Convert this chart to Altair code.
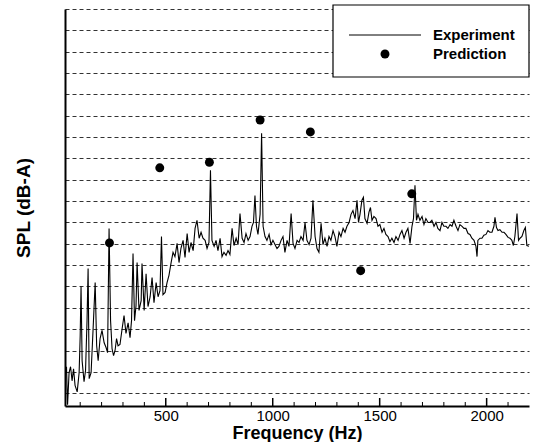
import altair as alt
import pandas as pd

# Experiment spectrum (Hz, dB-A)
freq = [32, 36, 41, 48, 55, 62, 69, 76, 86, 95, 100, 104, 109, 118, 125, 132, 137, 142, 151, 160,
        170, 177, 184, 193, 202, 212, 221, 228, 235, 242, 249, 256, 263, 270, 277, 286, 296, 305, 314, 324,
        333, 340, 347, 354, 361, 366, 375, 385, 389, 399, 408, 417, 427, 436, 445, 455, 464, 473, 480, 487,
        497, 506, 515, 525, 534, 543, 553, 562, 571, 581, 590, 600, 609, 618, 628, 637, 646, 656, 665, 674,
        684, 693, 702, 709, 716, 726, 735, 744, 754, 763, 772, 782, 791, 800, 810, 819, 829, 838, 847, 857,
        866, 875, 885, 894, 903, 910, 917, 924, 931, 941, 948, 955, 964, 973, 983, 992, 1001, 1011, 1020, 1029,
        1039, 1048, 1057, 1067, 1076, 1086, 1095, 1104, 1114, 1123, 1132, 1142, 1151, 1160, 1170, 1179, 1188, 1198, 1207, 1216,
        1226, 1235, 1244, 1254, 1263, 1272, 1282, 1291, 1300, 1310, 1319, 1329, 1338, 1347, 1357, 1366, 1375, 1385, 1394, 1401,
        1408, 1417, 1424, 1431, 1441, 1450, 1457, 1464, 1473, 1483, 1492, 1501, 1511, 1520, 1529, 1539, 1548, 1557, 1567, 1576,
        1586, 1595, 1604, 1614, 1623, 1632, 1642, 1651, 1658, 1665, 1672, 1679, 1688, 1698, 1707, 1716, 1726, 1735, 1744, 1754,
        1763, 1772, 1782, 1791, 1800, 1810, 1819, 1829, 1838, 1847, 1857, 1866, 1875, 1885, 1894, 1903, 1913, 1922, 1931, 1941,
        1950, 1955, 1959, 1969, 1978, 1987, 1997, 2006, 2015, 2025, 2034, 2039, 2046, 2053, 2062, 2072, 2081, 2090, 2100, 2109,
        2118, 2125, 2132, 2142, 2149, 2156, 2165, 2174, 2181, 2188, 2198]
spl = [14.8, 16.2, 7.3, 14.8, 16.2, 12.9, 15.7, 11.8, 10.3, 14.8, 23.5, 35.0, 17.6, 12.7, 15.3, 27.0, 39.2, 13.4, 14.8, 24.7,
       35.9, 21.1, 17.6, 22.8, 24.7, 21.8, 20.7, 19.5, 48.6, 27.0, 20.4, 18.8, 20.0, 22.8, 21.1, 21.4, 25.1, 28.2, 24.0, 26.5,
       23.0, 27.0, 42.7, 27.0, 30.5, 40.6, 29.4, 31.7, 40.4, 29.4, 38.0, 30.3, 32.6, 37.1, 31.2, 35.9, 32.6, 34.0, 46.7, 33.1,
       33.6, 35.9, 37.6, 40.6, 43.0, 42.0, 45.1, 40.6, 43.9, 45.8, 41.8, 47.4, 43.0, 45.3, 43.4, 48.6, 50.5, 46.3, 47.7, 46.3,
       45.8, 43.9, 45.3, 62.2, 45.8, 44.4, 45.8, 43.4, 46.3, 42.0, 43.0, 42.3, 43.4, 42.5, 48.6, 44.6, 46.3, 44.8, 52.1, 46.3,
       45.3, 47.4, 45.8, 46.7, 49.1, 50.0, 56.3, 49.1, 47.2, 51.9, 70.9, 49.1, 46.7, 45.8, 47.2, 44.8, 45.8, 44.8, 43.9, 44.4,
       45.8, 46.7, 43.0, 45.8, 44.4, 52.1, 45.1, 43.9, 45.8, 45.3, 46.7, 45.8, 50.0, 45.8, 44.8, 46.3, 55.2, 46.7, 43.9, 43.0,
       49.8, 44.8, 46.3, 44.4, 46.7, 45.8, 48.1, 46.7, 44.4, 47.7, 46.7, 48.6, 47.7, 49.1, 50.0, 51.9, 52.8, 50.9, 55.2, 50.0,
       51.9, 55.2, 55.9, 50.9, 49.8, 52.4, 53.5, 50.5, 51.4, 50.9, 49.1, 49.5, 47.7, 48.6, 47.2, 46.7, 45.5, 46.3, 45.3, 46.7,
       45.8, 47.2, 48.1, 46.3, 47.7, 48.6, 45.1, 49.1, 50.9, 58.7, 50.5, 51.9, 50.5, 51.4, 49.5, 50.9, 50.0, 50.0, 50.5, 49.1,
       50.0, 48.6, 48.1, 50.0, 49.1, 49.1, 48.6, 49.5, 49.1, 50.5, 49.1, 48.1, 49.5, 49.1, 48.6, 48.6, 47.4, 47.2, 46.3, 45.8,
       44.4, 42.0, 45.8, 46.3, 46.3, 47.0, 47.2, 48.1, 47.7, 47.7, 49.1, 51.2, 48.8, 48.1, 48.3, 47.7, 47.7, 47.2, 46.5, 46.3,
       45.8, 44.6, 46.7, 52.1, 45.8, 46.3, 46.7, 48.1, 48.8, 44.6, 44.4]

# Prediction points
pred_freq = [237, 472, 704, 941, 1176, 1411, 1650]
pred_spl = [45.2, 62.8, 64.1, 74.0, 71.2, 38.7, 56.7]

# Axis / grid values
grid_values = [10, 15, 20, 25, 30, 35, 40, 45, 50, 55, 60, 65, 70, 75, 80, 85, 90, 95, 100]
major_ticks = [500, 1000, 1500, 2000]
minor_ticks = [100, 200, 300, 400, 600, 700, 800, 900, 1100, 1200, 1300, 1400,
               1600, 1700, 1800, 1900, 2100]

FONT = "Liberation Sans"
W, H = 464, 397

xscale = alt.Scale(domain=[29, 2198], nice=False, zero=False)
yscale = alt.Scale(domain=[7, 100], nice=False, zero=False)

x_enc = alt.X("freq:Q", scale=xscale,
              axis=alt.Axis(values=major_ticks, ticks=False, grid=False, format="d",
                            labelFont=FONT, labelFontSize=15, labelColor="black", labelPadding=2,
                            domainColor="black", domainWidth=2,
                            title="Frequency (Hz)", titleFont=FONT, titleFontSize=18,
                            titleFontWeight="bold", titleColor="black",
                            titleY=27, titleBaseline="middle"))
y_enc = alt.Y("spl:Q", scale=yscale,
              axis=alt.Axis(values=grid_values, ticks=False, labels=False, grid=True,
                            gridDash=[4, 3], gridColor="#333333", gridWidth=1,
                            domainColor="black", domainWidth=2,
                            title="SPL (dB-A)", titleFont=FONT, titleFontSize=19,
                            titleFontWeight="bold", titleColor="black",
                            titleX=-42, titleY=H / 2, titleBaseline="middle"))

exp_df = pd.DataFrame({"freq": freq, "spl": spl})
pred_df = pd.DataFrame({"freq": pred_freq, "spl": pred_spl})
major_df = pd.DataFrame({"freq": major_ticks})
minor_df = pd.DataFrame({"freq": minor_ticks})

line = alt.Chart(exp_df).mark_line(color="black", strokeWidth=1.1, clip=True).encode(x=x_enc, y=y_enc)

points = alt.Chart(pred_df).mark_circle(color="black", size=80, opacity=1).encode(x=x_enc, y=y_enc)

major = alt.Chart(major_df).mark_rule(color="black", strokeWidth=1.5).encode(
    x=x_enc, y=alt.value(H), y2=alt.value(H - 8))
minor = alt.Chart(minor_df).mark_rule(color="black", strokeWidth=1).encode(
    x=x_enc, y=alt.value(H), y2=alt.value(H - 4))

one = alt.Data(values=[{"a": 1}])
legend_box = alt.Chart(one).mark_rect(fill="white", stroke="black", strokeWidth=1.2).encode(
    x=alt.value(268), x2=alt.value(W), y=alt.value(-4), y2=alt.value(68))
legend_line = alt.Chart(one).mark_rule(color="black", strokeWidth=1).encode(
    x=alt.value(284), x2=alt.value(356), y=alt.value(26))
legend_dot = alt.Chart(one).mark_circle(color="black", size=80, opacity=1).encode(
    x=alt.value(320), y=alt.value(45))
legend_t1 = alt.Chart(one).mark_text(text="Experiment", font=FONT, fontSize=15, fontWeight="bold",
                                     align="left", baseline="middle", color="black").encode(
    x=alt.value(368), y=alt.value(26))
legend_t2 = alt.Chart(one).mark_text(text="Prediction", font=FONT, fontSize=15, fontWeight="bold",
                                     align="left", baseline="middle", color="black").encode(
    x=alt.value(368), y=alt.value(45))

chart = alt.layer(line, points, major, minor, legend_box, legend_line, legend_dot,
                  legend_t1, legend_t2).properties(
    width=W, height=H,
    autosize=alt.AutoSizeParams(type="none"),
    padding={"left": 65, "top": 9, "right": 8, "bottom": 36},
    background="white",
).configure_view(strokeWidth=0)

chart.save("out.html", embed_options={"renderer": "svg", "actions": False})
